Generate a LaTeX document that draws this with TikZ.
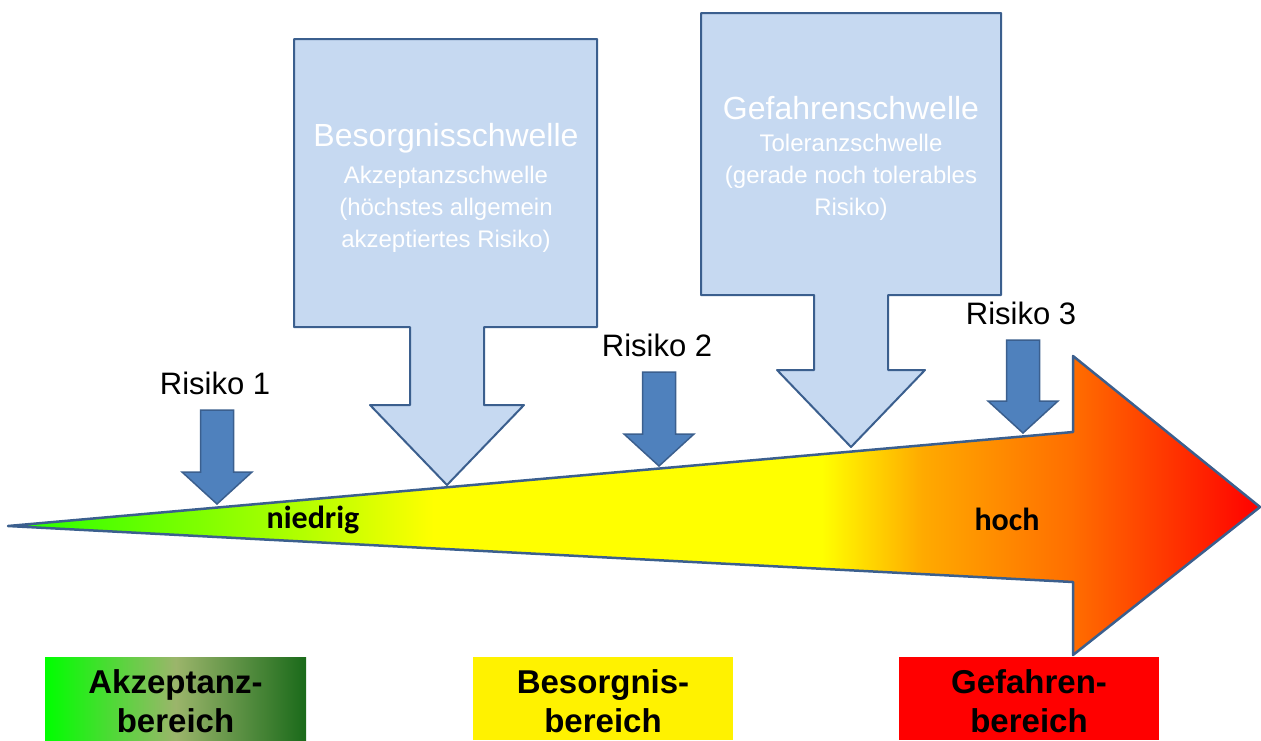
\documentclass[tikz,border=0pt]{standalone}
\usepackage{fontspec}
\setmainfont{Liberation Sans}
\newfontfamily\calfont{Carlito}
\usetikzlibrary{positioning}

\definecolor{edgeblue}{HTML}{3B5F8E}
\definecolor{markblue}{HTML}{4F81BD}
\definecolor{calloutblue}{HTML}{C6D9F1}
% colours of the risk scale
\definecolor{rgrn}{HTML}{22FF00}
\definecolor{rlime}{HTML}{A8FF00}
\definecolor{ryel}{HTML}{FFFF00}
\definecolor{rorg}{HTML}{FFAA00}
\definecolor{rdorg}{HTML}{FF6E00}
\definecolor{rred}{HTML}{FF0000}
% colours of the acceptance zone
\definecolor{agrn}{HTML}{00FF00}
\definecolor{aolive}{HTML}{9BB56B}
\definecolor{adark}{HTML}{1A6A1A}

\pgfdeclarehorizontalshading{riskgrad}{100bp}{color(0bp)=(rgrn); color(25bp)=(rgrn);
  color(36bp)=(rlime); color(42bp)=(ryel); color(57.5bp)=(ryel); color(61.5bp)=(rorg);
  color(67.5bp)=(rdorg); color(75bp)=(rred); color(100bp)=(rred)}
\pgfdeclarehorizontalshading{accgrad}{100bp}{color(0bp)=(agrn); color(25bp)=(agrn);
  color(50bp)=(aolive); color(75bp)=(adark); color(100bp)=(adark)}

\begin{document}
\begin{tikzpicture}[x=1pt, y=-1pt,
    callout/.style={draw=edgeblue, line width=2pt, fill=calloutblue, line join=round},
    marker/.style={draw=edgeblue, line width=1.5pt, fill=markblue},
    title/.style={text=white, font=\fontsize{32}{38}\selectfont},
    subtitle/.style={text=white, align=center, font=\fontsize{24}{32}\selectfont},
    risklabel/.style={font=\fontsize{31}{36}\selectfont},
    level/.style={font=\calfont\bfseries\fontsize{32}{38}\selectfont},
    zonetext/.style={anchor=base, font=\bfseries\fontsize{33}{39}\selectfont}
]
    \useasboundingbox (0,0) rectangle (1261,740);

    % Risk scale arrow (low to high)
    \shadedraw[shading=riskgrad, draw=edgeblue, line width=2.5pt, line join=round]
        (8,526) -- (1073,432) -- (1073,356) -- (1260,507) -- (1073,655) -- (1073,582) -- cycle;
    \node[level] (low) at (313,520) {niedrig};
    \node[level] (high) at (1007,519) {hoch};

    % Threshold callouts
    \draw[callout] (294,39) -- (597,39) -- (597,327) -- (484,327) -- (484,405) -- (524,405)
        -- (447,485) -- (370,405) -- (410,405) -- (410,327) -- (294,327) -- cycle;
    \node[title] (concern) at (446,138) {Besorgnisschwelle};
    \node[subtitle, below=6pt of concern] (concernsub)
        {Akzeptanzschwelle\\(höchstes allgemein\\akzeptiertes Risiko)};

    \draw[callout] (701,13) -- (1001,13) -- (1001,295) -- (888,295) -- (888,370) -- (925,370)
        -- (851,447) -- (777,370) -- (814,370) -- (814,295) -- (701,295) -- cycle;
    \node[title] (danger) at (851,108) {Gefahrenschwelle};
    \node[subtitle, below=7pt of danger] (dangersub)
        {Toleranzschwelle\\(gerade noch tolerables\\Risiko)};

    % Risk markers
    \foreach \xc/\yt/\yp/\n in {217/410/504/1, 659/372/466/2, 1023/340/433/3} {
        \draw[marker] (\xc-16.5,\yt) -- (\xc+16.5,\yt) -- (\xc+16.5,\yp-32) -- (\xc+35,\yp-32)
            -- (\xc,\yp) -- (\xc-35,\yp-32) -- (\xc-16.5,\yp-32) -- cycle;
        \node[risklabel] (risk\n) at (\xc-2,\yt-27) {Risiko \n};
    }

    % Zones at the bottom
    \shade[shading=accgrad] (45,657) rectangle (306,740);
    \fill[yellow] (473,657) rectangle (733,740);
    \fill[red] (899,657) rectangle (1159,740);
    \node[zonetext] (acc1) at (175.5,693) {Akzeptanz-};
    \node[zonetext] (acc2) at (175.5,732) {bereich};
    \node[zonetext] (con1) at (603,693) {Besorgnis-};
    \node[zonetext] (con2) at (603,732) {bereich};
    \node[zonetext] (dan1) at (1029,693) {Gefahren-};
    \node[zonetext] (dan2) at (1029,732) {bereich};
\end{tikzpicture}
\end{document}
